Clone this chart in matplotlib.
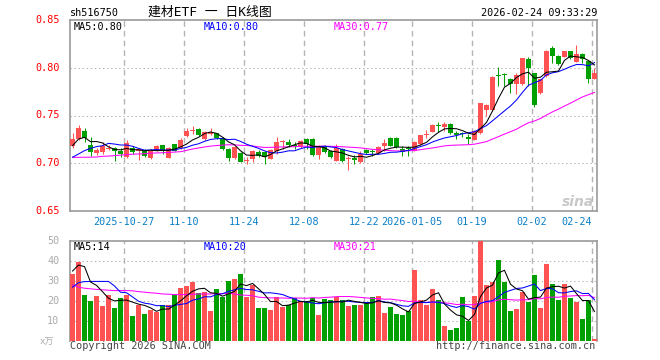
import numpy as np
import pandas as pd
import matplotlib
matplotlib.use("Agg")
import matplotlib.pyplot as plt

# daily candles (10-14 .. 02-24)
opens = [0.7184, 0.7253, 0.7337, 0.7191, 0.7104, 0.7115, 0.7150, 0.7160, 0.7132, 0.7066,
         0.7156, 0.7125, 0.7132, 0.7052, 0.7132, 0.7191, 0.7056, 0.7201, 0.7156, 0.7288,
         0.7337, 0.7358, 0.7253, 0.7305, 0.7312, 0.7260, 0.7149, 0.7052, 0.7108, 0.7028,
         0.7045, 0.7121, 0.7115, 0.7045, 0.7132, 0.7219, 0.7226, 0.7191, 0.7167, 0.7253,
         0.7253, 0.7090, 0.7167, 0.7132, 0.7028, 0.7149, 0.7042, 0.7052, 0.7011, 0.7139,
         0.7132, 0.7108, 0.7184, 0.7264, 0.7264, 0.7149, 0.7160, 0.7132, 0.7201, 0.7298,
         0.7330, 0.7395, 0.7382, 0.7410, 0.7316, 0.7316, 0.7271, 0.7247, 0.7316, 0.7560,
         0.7556, 0.7925, 0.7935, 0.7885, 0.7826, 0.7826, 0.8087, 0.7941, 0.7733, 0.7913,
         0.8208, 0.8121, 0.8115, 0.8173, 0.8059, 0.8139, 0.8069, 0.7885]
highs = [0.7312, 0.7399, 0.7370, 0.7271, 0.7163, 0.7219, 0.7195, 0.7165, 0.7156, 0.7240,
         0.7184, 0.7160, 0.7149, 0.7145, 0.7195, 0.7195, 0.7170, 0.7205, 0.7260, 0.7364,
         0.7385, 0.7365, 0.7340, 0.7364, 0.7320, 0.7270, 0.7155, 0.7180, 0.7115, 0.7063,
         0.7140, 0.7135, 0.7125, 0.7145, 0.7278, 0.7240, 0.7253, 0.7219, 0.7245, 0.7260,
         0.7260, 0.7191, 0.7191, 0.7140, 0.7201, 0.7155, 0.7073, 0.7090, 0.7132, 0.7145,
         0.7149, 0.7184, 0.7253, 0.7270, 0.7270, 0.7184, 0.7184, 0.7235, 0.7300, 0.7347,
         0.7410, 0.7427, 0.7427, 0.7420, 0.7340, 0.7330, 0.7306, 0.7345, 0.7635, 0.7618,
         0.7910, 0.8010, 0.7941, 0.7890, 0.7948, 0.8100, 0.8115, 0.7950, 0.7885, 0.8185,
         0.8232, 0.8130, 0.8180, 0.8180, 0.8243, 0.8156, 0.8075, 0.8000]
lows = [0.7160, 0.7246, 0.7226, 0.7080, 0.7085, 0.7100, 0.7135, 0.7028, 0.7063, 0.7060,
        0.7097, 0.7035, 0.7063, 0.7045, 0.7125, 0.7100, 0.7050, 0.7125, 0.7150, 0.7280,
        0.7305, 0.7290, 0.7245, 0.7300, 0.7250, 0.7140, 0.7028, 0.7045, 0.7010, 0.6993,
        0.7011, 0.7070, 0.6996, 0.7040, 0.7097, 0.7149, 0.7167, 0.7149, 0.7160, 0.7149,
        0.7080, 0.7045, 0.7108, 0.7055, 0.7020, 0.7011, 0.6934, 0.6993, 0.7005, 0.7100,
        0.7080, 0.7097, 0.7132, 0.7180, 0.7160, 0.7080, 0.7073, 0.7125, 0.7195, 0.7264,
        0.7325, 0.7323, 0.7340, 0.7305, 0.7253, 0.7280, 0.7202, 0.7240, 0.7310, 0.7490,
        0.7550, 0.7809, 0.7809, 0.7740, 0.7729, 0.7820, 0.7809, 0.7590, 0.7725, 0.7900,
        0.8052, 0.8028, 0.8110, 0.8095, 0.8055, 0.8052, 0.7844, 0.7880]
closes = [0.7253, 0.7368, 0.7260, 0.7115, 0.7142, 0.7177, 0.7163, 0.7125, 0.7097, 0.7210,
          0.7121, 0.7149, 0.7073, 0.7132, 0.7184, 0.7132, 0.7160, 0.7132, 0.7246, 0.7333,
          0.7347, 0.7298, 0.7330, 0.7330, 0.7260, 0.7149, 0.7052, 0.7174, 0.7018, 0.7035,
          0.7132, 0.7080, 0.7070, 0.7139, 0.7226, 0.7236, 0.7191, 0.7177, 0.7236, 0.7201,
          0.7090, 0.7167, 0.7121, 0.7063, 0.7156, 0.7028, 0.7048, 0.7035, 0.7097, 0.7108,
          0.7115, 0.7167, 0.7212, 0.7184, 0.7167, 0.7115, 0.7153, 0.7226, 0.7295, 0.7305,
          0.7403, 0.7388, 0.7410, 0.7312, 0.7295, 0.7302, 0.7254, 0.7340, 0.7629, 0.7610,
          0.7903, 0.7915, 0.7925, 0.7826, 0.7920, 0.8097, 0.8000, 0.7611, 0.7878, 0.8180,
          0.8121, 0.8035, 0.8173, 0.8104, 0.8139, 0.8087, 0.7878, 0.7941]
# volume in 万
volumes = [33.2, 39.4, 23.0, 19.9, 22.5, 17.4, 23.0, 16.4, 21.5, 23.0,
           12.3, 17.9, 13.3, 15.3, 14.3, 17.9, 17.9, 23.0, 26.1, 27.1,
           29.1, 24.0, 24.5, 14.8, 25.7, 22.0, 29.8, 30.8, 33.2, 21.6,
           27.6, 16.5, 16.5, 15.3, 22.0, 16.9, 17.9, 21.5, 19.9, 19.9,
           21.5, 12.8, 21.0, 20.4, 21.8, 20.4, 17.4, 17.9, 17.9, 19.1,
           22.0, 22.5, 13.8, 16.9, 13.3, 12.8, 14.8, 35.3, 20.4, 17.9,
           25.6, 20.4, 7.2, 5.1, 6.1, 22.0, 9.7, 22.5, 49.7, 27.6,
           29.1, 40.4, 29.1, 14.8, 15.8, 24.5, 19.4, 32.7, 16.4, 38.3,
           28.1, 20.4, 28.1, 21.5, 19.4, 10.7, 20.4, 0.6]

# moving-average values at the left edge (they depend on days before the window)
ma5_head = [0.7184, 0.7253, 0.7271, 0.7226]
ma10_head = [0.7063, 0.7097, 0.7132, 0.7156, 0.7174, 0.7184, 0.7208, 0.7201, 0.7191]
ma30_head = [0.7062, 0.7062, 0.7063, 0.7064, 0.7065, 0.7073, 0.7075, 0.7080, 0.7085, 0.7090,
             0.7095, 0.7097, 0.7100, 0.7105, 0.7108, 0.7110, 0.7113, 0.7117, 0.7121, 0.7135,
             0.7149, 0.7160, 0.7170, 0.7180, 0.7185, 0.7190, 0.7194, 0.7192, 0.7188]
vma5_head = [34.8, 37.8, 37.0, 29.3]
vma10_head = [26.7, 29.0, 29.5, 29.6, 29.6, 29.6, 29.6, 27.3, 24.2]
vma30_head = [27.9, 26.7, 26.2, 25.9, 25.6, 25.4, 25.2, 25.0, 25.0, 25.0,
              24.9, 24.5, 24.2, 23.9, 23.7, 23.3, 23.2, 23.0, 23.0, 23.0,
              23.2, 23.3, 23.3, 23.3, 23.5, 23.5, 23.7, 23.3, 22.8]

date_idx = [9, 19, 29, 39, 49, 57, 67, 77, 87]
date_labels = ["2025-10-27", "11-10", "11-24", "12-08", "12-22", "2026-01-05", "01-19", "02-02", "02-24"]
price_ticks = [0.85, 0.80, 0.75, 0.70, 0.65]
vol_ticks = [50, 40, 30, 20, 10]

RED = "#ff5252"
GREEN = "#00a000"
GRID = "#b4b4b4"
MONO = ["DejaVu Sans Mono", "Noto Sans CJK SC"]
LW = 0.75


def moving(vals, n, head):
    out = pd.Series(vals).rolling(n).mean().to_numpy()
    out[:len(head)] = head
    return out


x = np.arange(len(closes))
o = np.array(opens); c = np.array(closes)
up = c >= o
cols = [RED if u else GREEN for u in up]

W, H = 660, 360
fig = plt.figure(figsize=(W / 100, H / 100), dpi=100)
fig.patch.set_facecolor("white")


def fx(px):
    return px / W


def fy(py):
    return 1 - py / H


ax1 = fig.add_axes([fx(70), fy(211), fx(527), 191 / H])
ax2 = fig.add_axes([fx(70), fy(340.5), fx(527), 99.8 / H])
xlim = (-0.42, len(closes) - 0.58)

# price panel
ax1.vlines(x, lows, highs, colors=cols, linewidth=LW, zorder=3)
body_h = np.maximum(np.abs(c - o), 0.0009)
ax1.bar(x, body_h, bottom=np.minimum(o, c), width=0.8, color=cols, linewidth=0, zorder=4)
ax1.plot(x, moving(closes, 30, ma30_head), color="#ff00ff", lw=LW, zorder=5)
ax1.plot(x, moving(closes, 10, ma10_head), color="#0000ff", lw=LW, zorder=5)
ax1.plot(x, moving(closes, 5, ma5_head), color="black", lw=LW, zorder=5)
ax1.set_ylim(0.65, 0.85)
for p in price_ticks[1:-1]:
    ax1.axhline(p, color=GRID, lw=LW, ls=(0, (1.3, 2.6)), zorder=1)

# volume panel
ax2.bar(x, volumes, width=0.8, color=cols, linewidth=0, zorder=3)
ax2.plot(x, moving(volumes, 30, vma30_head), color="#ff00ff", lw=LW, zorder=5)
ax2.plot(x, moving(volumes, 10, vma10_head), color="#0000ff", lw=LW, zorder=5)
ax2.plot(x, moving(volumes, 5, vma5_head), color="black", lw=LW, zorder=5)
ax2.set_ylim(0, 50)
for v in vol_ticks[1:]:
    ax2.axhline(v, color=GRID, lw=LW, ls=(0, (1.3, 2.6)), zorder=1)

for ax in (ax1, ax2):
    ax.set_xlim(*xlim)
    ax.set_xticks([])
    ax.set_yticks([])
    for d in date_idx:
        ax.axvline(d - 0.42, color=GRID, lw=1, ls=(0, (4, 3)), zorder=1)
    for s in ax.spines.values():
        s.set_color("#999999")
        s.set_linewidth(1.2)
ax2.spines["bottom"].set_visible(False)

# axis labels
for p in price_ticks:
    ax1.text(-0.02, p, "%.2f" % p, transform=ax1.get_yaxis_transform(), ha="right", va="center",
             color="#ff0000", fontsize=7.3, family=MONO)
for v in vol_ticks:
    ax2.text(-0.02, v, str(v), transform=ax2.get_yaxis_transform(), ha="right", va="center",
             color="#aaaaaa", fontsize=7.3, family=MONO)
fig.text(fx(47), fy(342), "x万", ha="center", va="center", color="#aaaaaa", fontsize=6.5, family=MONO)

for d, lab in zip(date_idx, date_labels):
    px = 72.5 + 6 * d - 2.5
    if d == date_idx[-1]:
        px = 577
    fig.text(fx(px), fy(222), lab, ha="center", va="center", color="#0a7fc8", fontsize=7.3, family=MONO)

# header
fig.text(fx(70), fy(13), "sh516750", ha="left", va="center", fontsize=7.3, family=MONO)
fig.text(fx(210), fy(12), "建材ETF 一 日K线图", ha="center", va="center", fontsize=9.3, family=MONO)
fig.text(fx(597), fy(13), "2026-02-24 09:33:29", ha="right", va="center", fontsize=7.3, family=MONO)

# MA legends
for ypx, labs in ((27, ("MA5:0.80", "MA10:0.80", "MA30:0.77")), (247, ("MA5:14", "MA10:20", "MA30:21"))):
    for px, lab, col in zip((74, 204, 334), labs, ("black", "#0000ff", "#ff00ff")):
        fig.text(fx(px), fy(ypx), lab, ha="left", va="center", color=col, fontsize=7.3, family=MONO)

fig.text(fx(70), fy(346), "Copyright 2026 SINA.COM", ha="left", va="center", color="#444444",
         fontsize=7.3, family=MONO)
fig.text(fx(595), fy(346), "http://finance.sina.com.cn", ha="right", va="center", color="#444444",
         fontsize=7.3, family=MONO)

# watermark
fig.text(fx(578), fy(202), "sina", ha="center", va="center", color="#c8c8c8", fontsize=10,
         fontweight="bold", style="italic")

fig.savefig("out.png", dpi=100, facecolor="white")
